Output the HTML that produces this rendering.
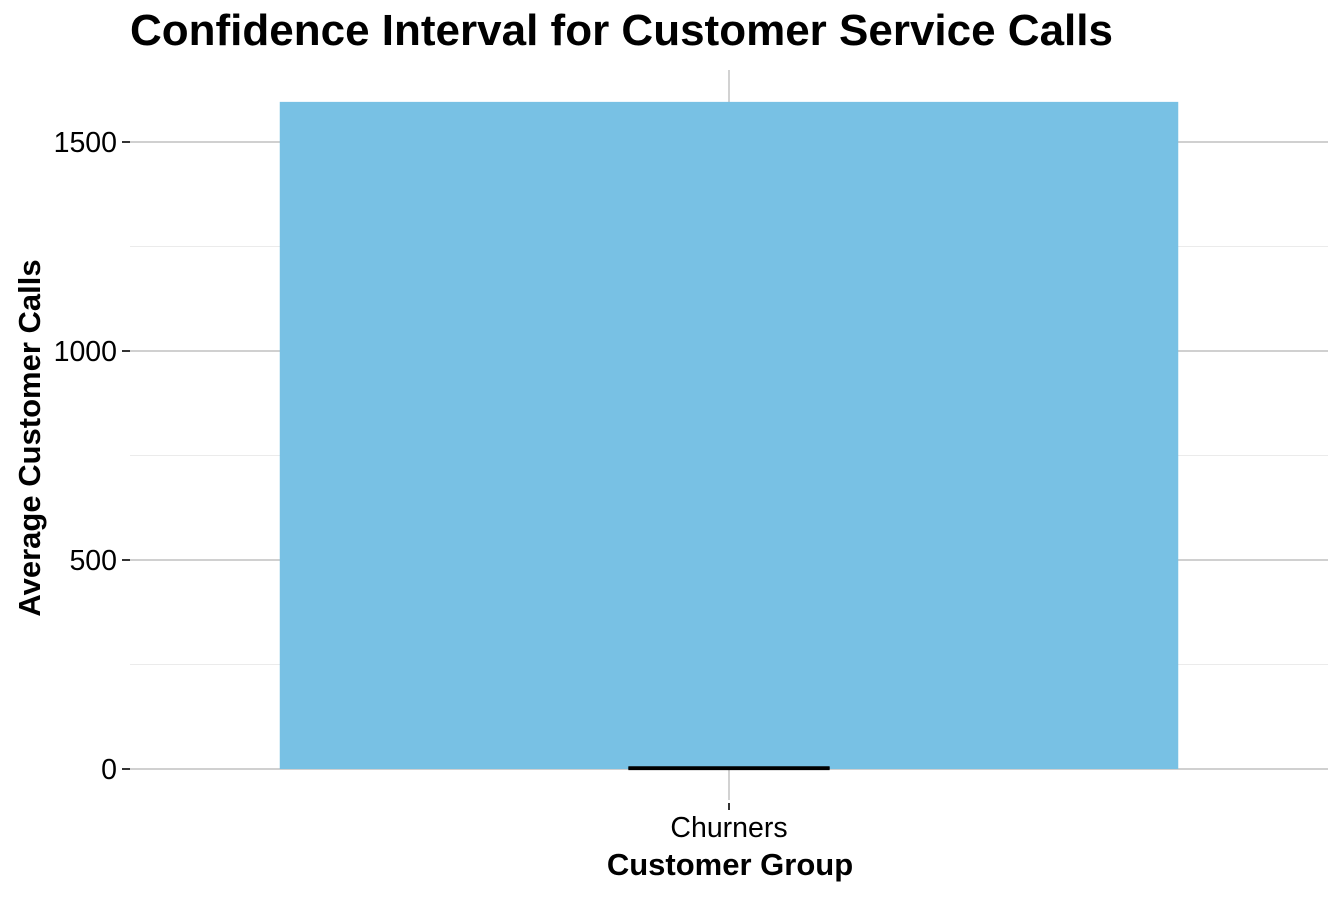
<!DOCTYPE html>
<html><head><meta charset="utf-8"><style>
body{margin:0;background:#fff;font-family:"Liberation Sans",Arial,sans-serif}
</style></head><body>
<svg width="1344" height="895" viewBox="0 0 1344 895" xmlns="http://www.w3.org/2000/svg">
<text x="130" y="45" font-size="44" font-weight="bold" fill="#000">Confidence Interval for Customer Service Calls</text>
<g id="grid"></g>
<g id="marks"></g>
<g id="axes"></g>
<text x="730" y="875" font-size="31" font-weight="bold" text-anchor="middle">Customer Group</text>
<text transform="translate(40,438) rotate(-90)" font-size="31" font-weight="bold" text-anchor="middle">Average Customer Calls</text>
</svg>
<script>
const categories=["Churners"];
const means=[1596];
const ciLow=[1];
const ciHigh=[3];
const yTicks=[0,500,1000,1500];
const yMinor=[250,750,1250];
const NS="http://www.w3.org/2000/svg";
const px0=130,px1=1328,pyTop=70,pyBot=800;
function y(v){return 769-v*(627/1500);}
const band=(px1-px0)/categories.length;
function xc(i){return px0+band*(i+0.5);}
function mk(tag,attrs,parent){const e=document.createElementNS(NS,tag);for(const k in attrs)e.setAttribute(k,attrs[k]);document.getElementById(parent).appendChild(e);return e;}
yMinor.forEach(v=>{const l=mk('line',{x1:px0,x2:px1,y1:y(v),y2:y(v),stroke:'#ebebeb','stroke-width':1},'grid');

});
yTicks.forEach(v=>{const l=mk('line',{x1:px0,x2:px1,y1:y(v),y2:y(v),stroke:'#b3b3b3','stroke-width':1.2},'grid');


const t=mk('line',{x1:122,x2:130,y1:y(v),y2:y(v),stroke:'#333','stroke-width':2},'axes');


const tx=mk('text',{x:117,y:y(v)+10,'font-size':28.5,'text-anchor':'end',fill:'#000'},'axes');
tx.textContent=v;

});
categories.forEach((c,i)=>{
const g=mk('line',{x1:xc(i),x2:xc(i),y1:pyTop,y2:pyBot,stroke:'#b3b3b3','stroke-width':1.2},'grid');


const bw=band*0.75;
const b=mk('rect',{x:xc(i)-bw/2,y:y(means[i]),width:bw,height:y(0)-y(means[i]),fill:'#78c1e4'},'marks');


const ew=band*0.168;
[ciLow[i],ciHigh[i]].forEach(v=>{const e=mk('line',{x1:xc(i)-ew/2,x2:xc(i)+ew/2,y1:y(v),y2:y(v),stroke:'#000','stroke-width':3},'marks');

});
const ev=mk('line',{x1:xc(i),x2:xc(i),y1:y(ciHigh[i]),y2:y(ciLow[i]),stroke:'#000','stroke-width':3},'marks');


const t=mk('line',{x1:xc(i),x2:xc(i),y1:803,y2:810,stroke:'#333','stroke-width':2},'axes');


const tx=mk('text',{x:xc(i),y:837,'font-size':28.5,'text-anchor':'middle',fill:'#000'},'axes');
tx.textContent=c;


});
</script>
</body></html>
